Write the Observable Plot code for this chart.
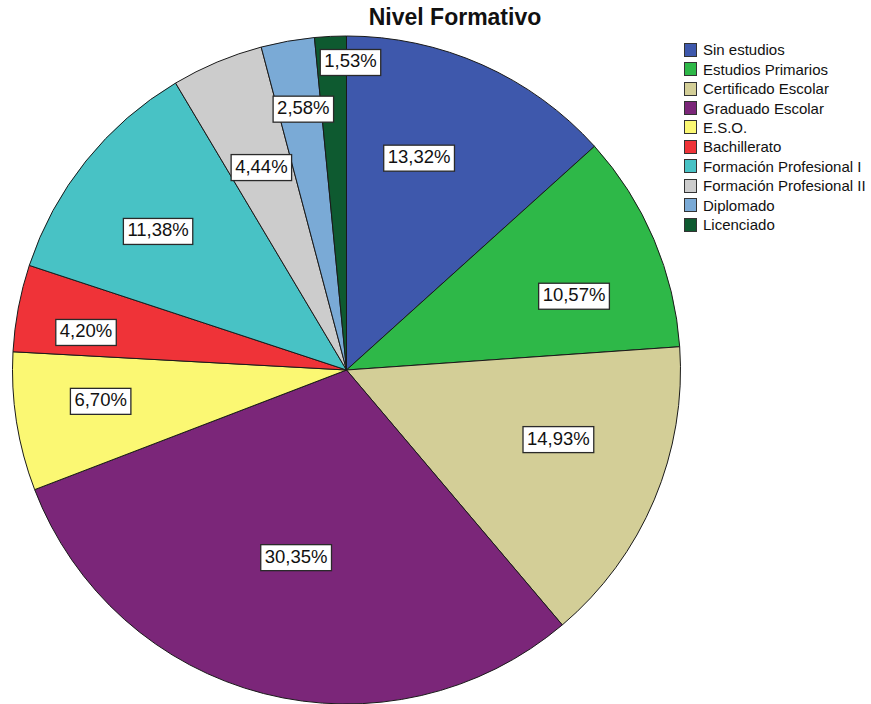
<!DOCTYPE html>
<html>
<head>
<meta charset="utf-8">
<script src="https://cdn.jsdelivr.net/npm/d3@7"></script>
<script src="https://cdn.jsdelivr.net/npm/@observablehq/plot@0.6"></script>
<style>
  body { margin: 0; background: #fff; font-family: "Liberation Sans", Arial, sans-serif; }
  #wrap { position: relative; width: 871px; height: 704px; overflow: hidden; }
  #title { position: absolute; left: 0; top: 3px; width: 910px; text-align: center; font-weight: bold; font-size: 23px; color: #111; line-height: 28px; }
  #chart { position: absolute; left: 0; top: 34px; }
  #legend { position: absolute; left: 684px; top: 40px; font-size: 15px; color: #111; }
  .row { display: flex; align-items: center; height: 19.45px; white-space: nowrap; }
  .sw { width: 11px; height: 12px; border: 1px solid #333; margin-right: 6px; flex: none; }
</style>
</head>
<body>
<div id="wrap">
  <div id="title">Nivel Formativo</div>
  <div id="chart"></div>
  <div id="legend"></div>
</div>
<script>
// ---- data ----
const categories = [
  "Sin estudios", "Estudios Primarios", "Certificado Escolar", "Graduado Escolar",
  "E.S.O.", "Bachillerato", "Formación Profesional I", "Formación Profesional II",
  "Diplomado", "Licenciado"
];
const percentages = [13.32, 10.57, 14.93, 30.35, 6.70, 4.20, 11.38, 4.44, 2.58, 1.53];
const colors = ["#3E58AC", "#2EB848", "#D3CE97", "#7B2679", "#FBF873", "#EF3338", "#48C2C5", "#CCCCCC", "#7AAAD6", "#0E5A30"];

// ---- label layout tweaks (fraction of radius, angular shift in degrees) ----
const labelRadius = [0.674, 0.716, 0.665, 0.578, 0.743, 0.790, 0.704, 0.662, 0.796, 0.925];
const labelShift  = [-5.3, 4.7, -5.0, 0.9, 2.0, -2.2, -2.2, 0, 0.7, 3.4];

const fmt = v => d3.format(".2f")(v).replace(".", ",") + "%";
const arcs = d3.pie().sort(null).value(d => d)(percentages);

const labels = arcs.map((a, i) => {
  const mid = (a.startAngle + a.endAngle) / 2 + labelShift[i] * Math.PI / 180;
  const k = labelRadius[i];
  return { text: fmt(percentages[i]), x: k * Math.sin(mid), y: k * Math.cos(mid) };
});

const slices = (index, scales) => {
  const cx = scales.x(0), cy = scales.y(0);
  const r = scales.x(1) - scales.x(0);
  const arc = d3.arc().innerRadius(0).outerRadius(r);
  const color = scales.color || (c => colors[categories.indexOf(c)]);
  const g = d3.create("svg:g").attr("transform", `translate(${cx},${cy})`);
  g.selectAll("path").data(arcs).join("path")
    .attr("d", arc)
    .attr("fill", d => color(categories[d.index]))
    .attr("stroke", "#1a1a1a")
    .attr("stroke-width", 1)
    .attr("stroke-linejoin", "round");
  return g.node();
};

const chart = Plot.plot({
  width: 871,
  height: 671,
  margin: 0,
  x: { domain: [-1, 1], range: [12.5, 680.5], axis: null },
  y: { domain: [-1, 1], range: [670, 2], axis: null },
  color: { domain: categories, range: colors },
  marks: [
    slices,
    Plot.text(labels, {
      x: "x", y: "y", text: "text",
      fontSize: 18.5, fill: "#111",
      fontFamily: "Liberation Sans, Arial, sans-serif"
    })
  ]
});
document.getElementById("chart").append(chart);

// white boxes behind labels
d3.select(chart).selectAll('g[aria-label="text"]').each(function () {
  const texts = Array.from(this.querySelectorAll("text"));
  const first = texts[0];
  texts.forEach(t => {
    const b = t.getBBox();
    const rect = document.createElementNS("http://www.w3.org/2000/svg", "rect");
    rect.setAttribute("x", b.x - 4);
    rect.setAttribute("y", b.y - 1);
    rect.setAttribute("width", b.width + 8);
    rect.setAttribute("height", b.height + 5);
    rect.setAttribute("fill", "#fff");
    rect.setAttribute("stroke", "#2a2a2a");
    rect.setAttribute("stroke-width", 1.3);
    const tr = t.getAttribute("transform");
    if (tr) rect.setAttribute("transform", tr);
    this.insertBefore(rect, first);
  });
});

// legend
const cs = chart.scale("color");
const legend = d3.select("#legend");
cs.domain.forEach((c, i) => {
  const row = legend.append("div").attr("class", "row");
  row.append("div").attr("class", "sw").style("background", cs.range[i]);
  row.append("span").text(c);
});
</script>
</body>
</html>
